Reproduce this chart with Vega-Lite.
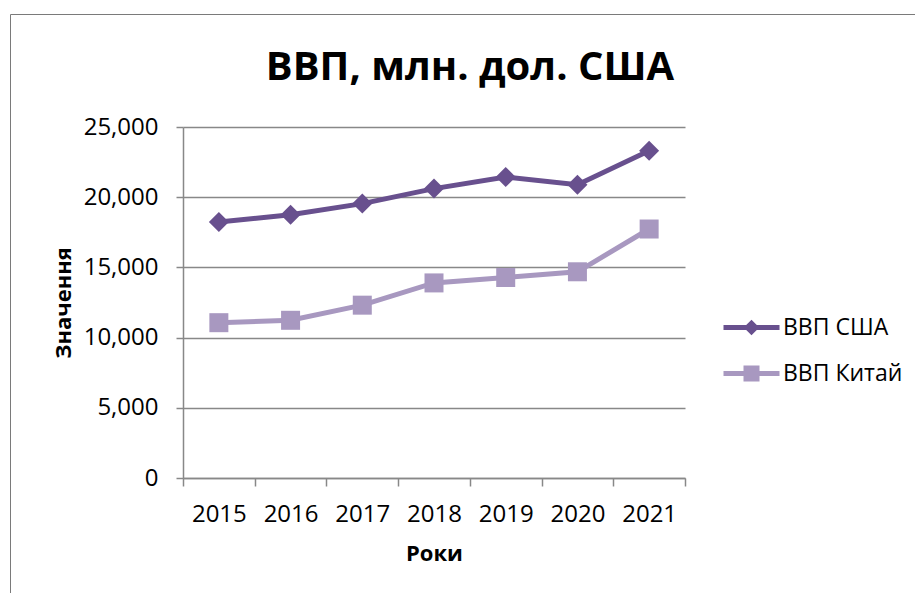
{
  "$schema": "https://vega.github.io/schema/vega-lite/v6.json",
  "width": 502,
  "height": 351,
  "autosize": {"type": "none"},
  "padding": {"left": 183, "top": 127, "right": 230, "bottom": 115},
  "background": "white",
  "title": {
    "text": "ВВП, млн. дол. США",
    "font": "Open Sans",
    "fontSize": 40,
    "fontWeight": "bold",
    "color": "#000000",
    "anchor": "middle",
    "dx": 36,
    "baseline": "alphabetic",
    "offset": -106
  },
  "data": {
    "values": [
      {"year": "2015", "series": "ВВП США", "value": 18238},
      {"year": "2016", "series": "ВВП США", "value": 18745},
      {"year": "2017", "series": "ВВП США", "value": 19543},
      {"year": "2018", "series": "ВВП США", "value": 20612},
      {"year": "2019", "series": "ВВП США", "value": 21433},
      {"year": "2020", "series": "ВВП США", "value": 20894},
      {"year": "2021", "series": "ВВП США", "value": 23315},
      {"year": "2015", "series": "ВВП Китай", "value": 11062},
      {"year": "2016", "series": "ВВП Китай", "value": 11233},
      {"year": "2017", "series": "ВВП Китай", "value": 12310},
      {"year": "2018", "series": "ВВП Китай", "value": 13895},
      {"year": "2019", "series": "ВВП Китай", "value": 14280},
      {"year": "2020", "series": "ВВП Китай", "value": 14688},
      {"year": "2021", "series": "ВВП Китай", "value": 17734}
    ]
  },
  "encoding": {
    "x": {
      "field": "year",
      "type": "ordinal",
      "scale": {"type": "band", "paddingInner": 0, "paddingOuter": 0},
      "axis": {
        "title": "Роки",
        "labelAngle": 0,
        "tickBand": "extent",
        "tickSize": 8,
        "tickWidth": 1.5,
        "tickColor": "#888888",
        "domainColor": "#888888",
        "domainWidth": 1.5,
        "labelFont": "Open Sans",
        "labelFontSize": 24,
        "labelColor": "#000000",
        "labelPadding": 16,
        "titleFont": "Open Sans",
        "titleFontSize": 22,
        "titleFontWeight": "bold",
        "titleColor": "#000000",
        "titlePadding": 17,
        "grid": false
      }
    },
    "y": {
      "field": "value",
      "type": "quantitative",
      "scale": {"domain": [0, 25000], "nice": false},
      "axis": {
        "title": "Значення",
        "values": [0, 5000, 10000, 15000, 20000, 25000],
        "format": ",d",
        "tickSize": 7,
        "tickWidth": 1.5,
        "tickColor": "#888888",
        "domainColor": "#888888",
        "domainWidth": 1.5,
        "grid": true,
        "gridColor": "#888888",
        "gridWidth": 1.5,
        "labelFont": "Open Sans",
        "labelFontSize": 24,
        "labelColor": "#000000",
        "labelPadding": 18,
        "titleFont": "Open Sans",
        "titleFontSize": 22,
        "titleFontWeight": "bold",
        "titleColor": "#000000",
        "titlePadding": 8
      }
    }
  },
  "layer": [
    {
      "transform": [{"filter": "datum.series === 'ВВП Китай'"}],
      "mark": {"type": "line", "color": "#a898c0", "strokeWidth": 5}
    },
    {
      "transform": [{"filter": "datum.series === 'ВВП Китай'"}],
      "mark": {"type": "point", "shape": "square", "filled": true, "opacity": 1, "color": "#a898c0", "size": 361}
    },
    {
      "transform": [{"filter": "datum.series === 'ВВП США'"}],
      "mark": {"type": "line", "color": "#68508e", "strokeWidth": 5}
    },
    {
      "transform": [{"filter": "datum.series === 'ВВП США'"}],
      "mark": {"type": "point", "shape": "diamond", "filled": true, "opacity": 1, "color": "#68508e", "size": 400}
    },
    {
      "mark": {"type": "point", "filled": true, "opacity": 0, "size": 400},
      "encoding": {
        "color": {
          "field": "series",
          "type": "nominal",
          "scale": {"domain": ["ВВП США", "ВВП Китай"], "range": ["#68508e", "#a898c0"]},
          "legend": {
            "title": null,
            "orient": "none",
            "legendX": 557,
            "legendY": 189,
            "symbolSize": 400,
            "symbolOpacity": 1,
            "symbolStrokeWidth": 0,
            "labelOffset": 20,
            "rowPadding": 22,
            "labelFont": "Open Sans",
            "labelFontSize": 23,
            "labelColor": "#000000",
            "labelLimit": 300
          }
        },
        "shape": {
          "field": "series",
          "type": "nominal",
          "scale": {
            "domain": ["ВВП США", "ВВП Китай"],
            "range": [
              "M-2.8,-0.25H2.8V0.25H-2.8Z M0,-0.78L0.78,0L0,0.78L-0.78,0Z",
              "M-2.8,-0.25H2.8V0.25H-2.8Z M-0.8,-0.8H0.8V0.8H-0.8Z"
            ]
          },
          "legend": {
            "title": null,
            "orient": "none",
            "legendX": 557,
            "legendY": 189,
            "symbolSize": 400,
            "symbolOpacity": 1,
            "symbolStrokeWidth": 0,
            "labelOffset": 20,
            "rowPadding": 22,
            "labelFont": "Open Sans",
            "labelFontSize": 23,
            "labelColor": "#000000",
            "labelLimit": 300
          }
        },
        "strokeDash": {
          "field": "year",
          "type": "ordinal",
          "legend": {
            "title": null,
            "orient": "none",
            "legendX": -173,
            "legendY": -113,
            "padding": 700,
            "columns": 7,
            "columnPadding": 200,
            "strokeColor": "#7a7a7a",
            "symbolOpacity": 0,
            "labelOpacity": 0,
            "labelExpr": "''",
            "symbolSize": 1,
            "labelFontSize": 1,
            "rowPadding": 0,
            "symbolStrokeWidth": 0
          }
        }
      }
    }
  ],
  "config": {
    "view": {"stroke": null}
  }
}
